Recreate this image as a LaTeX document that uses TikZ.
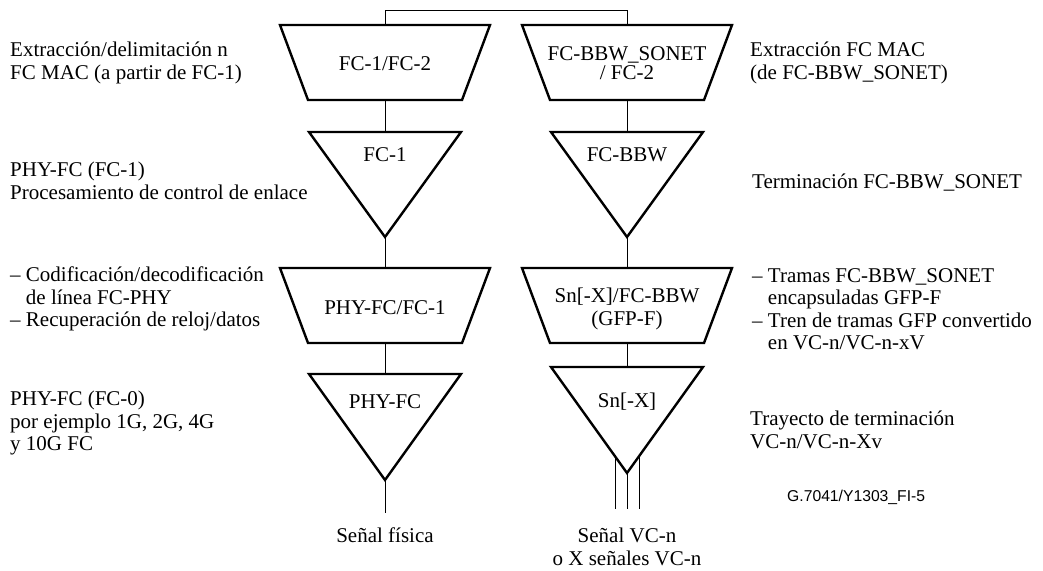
\documentclass[tikz,border=0pt]{standalone}
\usepackage{fontspec}
\setmainfont{Liberation Serif}
\newfontfamily\labsans{Liberation Sans}
\usetikzlibrary{calc}
\begin{document}
\begin{tikzpicture}[x=1pt,y=-1pt,
  blk/.style={line width=2.4pt,line join=miter},
  wire/.style={line width=0.9pt},
  lbl/.style={font=\fontsize{21}{22.5}\selectfont,inner sep=0pt,align=center},
  side/.style={font=\fontsize{21}{22.5}\selectfont,inner sep=0pt,align=left,anchor=west}]
\useasboundingbox[fill=white] (0,0) rectangle (1043,570);
% ---- left column (cx=385)
\coordinate (a1t) at (385,25);  \coordinate (a1b) at (385,100);
\coordinate (a2t) at (385,132); \coordinate (a2b) at (385,237);
\coordinate (a3t) at (385,268); \coordinate (a3b) at (385,343);
\coordinate (a4t) at (385,374); \coordinate (a4b) at (385,480);
\coordinate (aend) at (385,513);
% ---- right column (cx=627)
\coordinate (b1t) at (627,25);  \coordinate (b1b) at (627,100);
\coordinate (b2t) at (627,132); \coordinate (b2b) at (627,237);
\coordinate (b3t) at (627,268); \coordinate (b3b) at (627,343);
\coordinate (b4t) at (627,367); \coordinate (b4b) at (627,473);
\coordinate (bend) at (627,509);
\coordinate (bl) at (615,456); \coordinate (ble) at (615,509);
\coordinate (br) at (639,456); \coordinate (bre) at (639,509);
% shapes
\draw[blk] ($(a1t)+(-105,0)$) -- ($(a1t)+(105,0)$) -- ($(a1b)+(77,0)$) -- ($(a1b)+(-77,0)$) -- cycle;
\draw[blk] ($(b1t)+(-105,0)$) -- ($(b1t)+(105,0)$) -- ($(b1b)+(77,0)$) -- ($(b1b)+(-77,0)$) -- cycle;
\draw[blk] ($(a2t)+(-76,0)$) -- ($(a2t)+(76,0)$) -- (a2b) -- cycle;
\draw[blk] ($(b2t)+(-76,0)$) -- ($(b2t)+(76,0)$) -- (b2b) -- cycle;
\draw[blk] ($(a3t)+(-105,0)$) -- ($(a3t)+(105,0)$) -- ($(a3b)+(77,0)$) -- ($(a3b)+(-77,0)$) -- cycle;
\draw[blk] ($(b3t)+(-105,0)$) -- ($(b3t)+(105,0)$) -- ($(b3b)+(77,0)$) -- ($(b3b)+(-77,0)$) -- cycle;
\draw[blk] ($(a4t)+(-76,0)$) -- ($(a4t)+(76,0)$) -- (a4b) -- cycle;
\draw[blk] ($(b4t)+(-76,0)$) -- ($(b4t)+(76,0)$) -- (b4b) -- cycle;
% connectors
\draw[wire] (a1t) |- (627,10) -- (b1t);
\draw[wire] (a1b) -- (a2t);
\draw[wire] (a2b) -- (a3t);
\draw[wire] (a3b) -- (a4t);
\draw[wire] (a4b) -- (aend);
\draw[wire] (b1b) -- (b2t);
\draw[wire] (b2b) -- (b3t);
\draw[wire] (b3b) -- (b4t);
\draw[wire] (b4b) -- (bend);
\draw[wire] (bl) -- (ble);
\draw[wire] (br) -- (bre);
% block labels
\node[lbl] (ta1) at (385,64) {FC-1/FC-2};
\node[lbl] (tb1) at (627,63) {FC-BBW\_SONET\\[-3pt]/ FC-2};
\node[lbl] (ta2) at (385,155) {FC-1};
\node[lbl] (tb2) at (627,155) {FC-BBW};
\node[lbl] (ta3) at (385,308) {PHY-FC/FC-1};
\node[lbl] (tb3) at (627,309) {Sn[-X]/FC-BBW\\(GFP-F)};
\node[lbl] (ta4) at (385,402) {PHY-FC};
\node[lbl] (tb4) at (627,402) {Sn[-X]};
\node[lbl] (sa) at (385,535) {Señal física};
\node[lbl] (sb) at (627,547) {Señal VC-n\\o X señales VC-n};
% side texts
\node[side] (l1) at (10,63) {Extracción/delimitación n\\FC MAC (a partir de FC-1)};
\node[side] (l2) at (10,181) {PHY-FC (FC-1)\\Procesamiento de control de enlace};
\node[side] (l3) at (10,299) {– Codificación/decodificación\\\phantom{– }de línea FC-PHY\\– Recuperación de reloj/datos};
\node[side] (l4) at (10,423) {PHY-FC (FC-0)\\por ejemplo 1G, 2G, 4G\\y 10G FC};
\node[side] (r1) at (750,63) {Extracción FC MAC\\(de FC-BBW\_SONET)};
\node[side] (r2) at (752,183) {Terminación FC-BBW\_SONET};
\node[side] (r3) at (752,309) {– Tramas FC-BBW\_SONET\\\phantom{– }encapsuladas GFP-F\\– Tren de tramas GFP convertido\\\phantom{– }en VC-n/VC-n-xV};
\node[side] (r4) at (750,430) {Trayecto de terminación\\VC-n/VC-n-Xv};
\node[anchor=west,inner sep=0pt,font=\labsans\fontsize{15.7}{17}\selectfont] (fig) at (787,497) {G.7041/Y1303\_FI-5};
\end{tikzpicture}
\end{document}
